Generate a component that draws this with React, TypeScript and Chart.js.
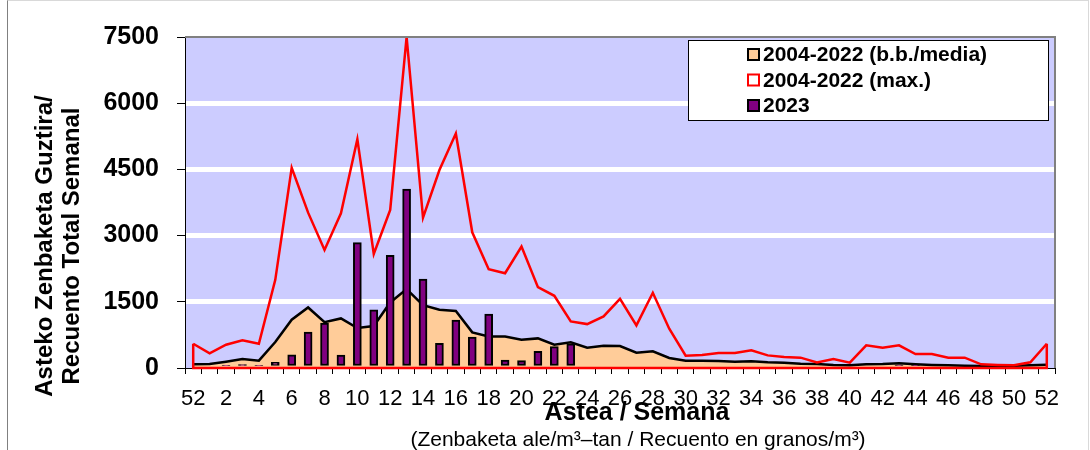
import React, { useEffect, useRef } from "react";
import { Chart, registerables } from "chart.js";

Chart.register(...registerables);

const WEEKS = ["52", "1", "2", "3", "4", "5", "6", "7", "8", "9", "10", "11", "12", "13", "14", "15", "16", "17", "18", "19", "20", "21", "22", "23", "24", "25", "26", "27", "28", "29", "30", "31", "32", "33", "34", "35", "36", "37", "38", "39", "40", "41", "42", "43", "44", "45", "46", "47", "48", "49", "50", "51", "52"];

const MEAN_2004_2022 = [83, 90, 143, 204, 166, 588, 1093, 1372, 1040, 1123, 905, 950, 1485, 1787, 1425, 1319, 1290, 807, 716, 716, 641, 671, 528, 581, 460, 505, 498, 347, 377, 226, 166, 166, 158, 143, 151, 128, 121, 98, 90, 68, 60, 83, 90, 106, 83, 68, 60, 53, 45, 45, 53, 60, 75];

const MAX_2004_2022 = [550, 332, 528, 626, 550, 1998, 4538, 3520, 2676, 3505, 5186, 2586, 3581, 7500, 3407, 4485, 5314, 3075, 2239, 2148, 2752, 1832, 1636, 1056, 995, 1169, 1568, 965, 1704, 890, 279, 294, 339, 339, 400, 286, 249, 234, 128, 204, 121, 513, 460, 513, 317, 317, 234, 234, 83, 68, 60, 128, 550];

const VALUES_2023 = [null, null, 60, 75, 50, 130, 300, 814, 1018, 294, 2842, 1319, 2555, 4055, 2013, 558, 1085, 701, 1221, 181, 166, 377, 483, 550, null, null, null, null, null, null, null, null, null, null, null, null, null, null, null, null, null, null, null, 50, 50, null, null, null, null, null, null, null, null];

const LEGEND_LABELS = ["2004-2022 (b.b./media)", "2004-2022 (max.)", "2023"];
const Y_TITLE = ["Asteko Zenbaketa Guztira/", "Recuento Total Semanal"];
const X_TITLE = "Astea / Semana";
const X_SUBTITLE = "(Zenbaketa ale/m³–tan / Recuento en granos/m³)";

const FONT = '"Liberation Sans", Arial, sans-serif';
const C_PLOT = "#CCCCFF";
const C_MEAN = "#FFCC99";
const C_MAX = "#FF0000";
const C_2023 = "#800080";

const bgPlugin = {
  id: "plotBg",
  beforeDraw(chart: any) {
    const { ctx, chartArea: a } = chart;
    ctx.save();
    ctx.fillStyle = C_PLOT;
    ctx.fillRect(a.left, a.top, a.right - a.left, a.bottom - a.top);
    ctx.restore();
  },
  afterDatasetsDraw(chart: any) {
    const { ctx, chartArea: a } = chart;
    ctx.save();
    ctx.strokeStyle = "#808080";
    ctx.lineWidth = 2;
    ctx.beginPath();
    ctx.moveTo(a.left, a.top);
    ctx.lineTo(a.right, a.top);
    ctx.lineTo(a.right, a.bottom);
    ctx.stroke();
    ctx.restore();
  },
};

const maxClosurePlugin = {
  id: "maxClosure",
  afterDatasetDraw(chart: any, args: any) {
    if (args.index !== 1) return;
    const pts = args.meta.data;
    if (!pts || !pts.length) return;
    const y0 = chart.scales.y.getPixelForValue(0);
    const first = pts[0];
    const last = pts[pts.length - 1];
    const ctx = chart.ctx;
    ctx.save();
    ctx.strokeStyle = C_MAX;
    ctx.lineWidth = 2.5;
    ctx.beginPath();
    ctx.moveTo(first.x, first.y);
    ctx.lineTo(first.x, y0);
    ctx.lineTo(last.x, y0);
    ctx.lineTo(last.x, last.y);
    ctx.stroke();
    ctx.restore();
  },
};

const textPlugin = {
  id: "texts",
  afterDraw(chart: any) {
    const ctx = chart.ctx;
    ctx.save();
    ctx.fillStyle = "#000";
    ctx.textBaseline = "alphabetic";
    ctx.textAlign = "center";
    // y title
    ctx.font = `bold 24px ${FONT}`;
    const yBase = [52, 79];
    Y_TITLE.forEach((line, i) => {
      ctx.save();
      ctx.translate(yBase[i], 246);
      ctx.rotate(-Math.PI / 2);
      ctx.fillText(line, 0, 0);
      ctx.restore();
    });
    // x title
    ctx.font = `bold 25px ${FONT}`;
    ctx.fillText(X_TITLE, 637, 420);
    ctx.font = `21px ${FONT}`;
    ctx.fillText(X_SUBTITLE, 638, 446);

    // legend
    const lx = 688, ly = 40, lw = 360, lh = 80;
    ctx.fillStyle = "#FFFFFF";
    ctx.fillRect(lx, ly, lw, lh);
    ctx.strokeStyle = "#000";
    ctx.lineWidth = 1;
    ctx.strokeRect(lx + 0.5, ly + 0.5, lw, lh);
    const rows = [61, 86.5, 112];
    const fills = [C_MEAN, "#FFFFFF", C_2023];
    const strokes = ["#000", C_MAX, "#000"];
    ctx.textAlign = "left";
    ctx.font = `bold 21px ${FONT}`;
    LEGEND_LABELS.forEach((lab, i) => {
      const by = rows[i];
      ctx.fillStyle = fills[i];
      ctx.fillRect(748, by - 12, 11, 11);
      ctx.strokeStyle = strokes[i];
      ctx.lineWidth = 2;
      ctx.strokeRect(748, by - 12, 11, 11);
      ctx.fillStyle = "#000";
      ctx.fillText(lab, 763, by);
    });
    ctx.restore();
  },
};

export default function App() {
  const ref = useRef<HTMLCanvasElement | null>(null);

  useEffect(() => {
    if (!ref.current) return;
    const chart = new Chart(ref.current, {
      type: "bar",
      data: {
        labels: WEEKS,
        datasets: [
          {
            type: "line",
            label: LEGEND_LABELS[0],
            data: MEAN_2004_2022,
            borderColor: "#000000",
            borderWidth: 2.5,
            backgroundColor: C_MEAN,
            fill: "origin",
            pointRadius: 0,
            tension: 0,
            order: 3,
          } as any,
          {
            type: "line",
            label: LEGEND_LABELS[1],
            data: MAX_2004_2022,
            borderColor: C_MAX,
            borderWidth: 2.5,
            fill: false,
            pointRadius: 0,
            tension: 0,
            order: 2,
            clip: 5,
          } as any,
          {
            type: "bar",
            label: LEGEND_LABELS[2],
            data: VALUES_2023,
            backgroundColor: C_2023,
            borderColor: "#000000",
            borderWidth: 2,
            borderSkipped: false,
            barThickness: 8,
            order: 1,
          } as any,
        ],
      },
      options: {
        responsive: false,
        animation: false,
        devicePixelRatio: 1,
        layout: { padding: { top: 37, right: 35, left: 0, bottom: 0 } },
        plugins: {
          legend: { display: false },
          tooltip: { enabled: false },
        },
        scales: {
          x: {
            offset: true,
            grid: {
              offset: true,
              drawOnChartArea: false,
              drawTicks: true,
              tickLength: 6,
              tickColor: "#000",
              tickWidth: 1,
            },
            border: { display: true, color: "#000", width: 1 },
            ticks: {
              autoSkip: false,
              maxRotation: 0,
              minRotation: 0,
              padding: 12,
              color: "#000",
              font: { family: FONT, size: 22 },
              callback: (_v: any, i: number) => (i % 2 === 0 ? WEEKS[i] : ""),
            },
            afterFit: (s: any) => {
              s.height = 82;
            },
          },
          y: {
            min: 0,
            max: 7500,
            ticks: {
              stepSize: 1500,
              padding: 18,
              color: "#000",
              font: { family: FONT, size: 25, weight: "bold" },
              callback: (v: any) => String(v),
            },
            grid: {
              color: (c: any) =>
                c.tick && (c.tick.value === 0 || c.tick.value === 7500) ? "rgba(0,0,0,0)" : "#FFFFFF",
              lineWidth: 5,
              drawTicks: true,
              tickLength: 8,
              tickColor: "#000",
              tickWidth: 1,
            },
            border: { display: true, color: "#000", width: 1 },
            afterFit: (s: any) => {
              s.width = 185;
            },
          },
        },
      } as any,
      plugins: [bgPlugin, maxClosurePlugin, textPlugin],
    });
    return () => chart.destroy();
  }, []);

  return (
    <div style={{ position: "absolute", left: 0, top: 0, width: 1090, height: 450, overflow: "hidden", background: "#fff" }}>
      <div
        style={{
          position: "absolute",
          left: 7,
          top: 0,
          width: 1080,
          height: 470,
          borderLeft: "1px solid #808080",
          borderTop: "1px solid #d9d9d9",
          borderRight: "1px solid #d9d9d9",
        }}
      />
      <canvas ref={ref} width={1090} height={450} style={{ position: "absolute", left: 0, top: 0, width: 1090, height: 450 }} />
    </div>
  );
}
